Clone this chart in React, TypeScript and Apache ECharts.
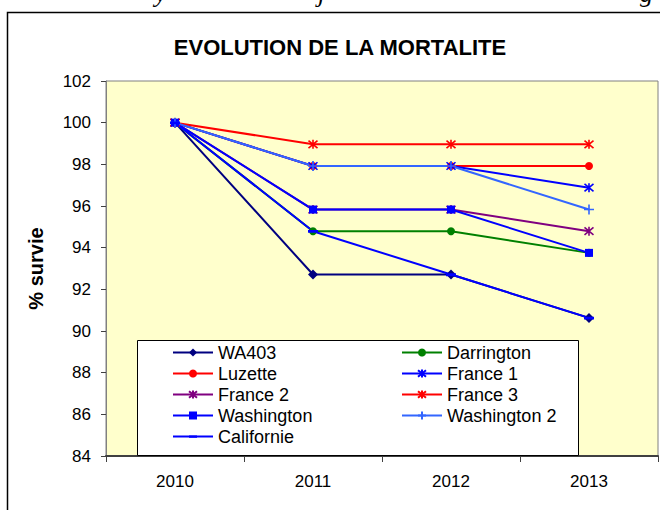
import React, { useEffect, useRef } from "react";
import * as echarts from "echarts";

const categories = ["2010", "2011", "2012", "2013"];
const seriesNames = ["WA403", "Darrington", "Luzette", "France 1", "France 2", "France 3", "Washington", "Washington 2", "Californie"];
const wa403 = [100, 92.71, 92.71, 90.63];
const darrington = [100, 94.79, 94.79, 93.75];
const luzette = [100, 97.92, 97.92, 97.92];
const france1 = [100, 97.92, 97.92, 96.88];
const france2 = [100, 95.83, 95.83, 94.79];
const france3 = [100, 98.96, 98.96, 98.96];
const washington = [100, 95.83, 95.83, 93.75];
const washington2 = [100, 97.92, 97.92, 95.83];
const californie = [100, 94.79, 92.71, 90.63];
const yTicks = { min: 84, max: 102, interval: 2 };

const ASTERISK = "path://M0,0L10,10M10,0L0,10M5,-1L5,11";
const PLUS = "path://M5,0L5,10M0,5L10,5";
const DASH = "path://M0,0L0.01,0L0.01,0.01ZM0,10L0.01,10L0.01,9.99ZM0,3.8L10,3.8L10,6.6L0,6.6Z";

const FONT = "'Liberation Sans', Arial, sans-serif";

export default function App() {
  const ref = useRef<HTMLDivElement>(null);
  useEffect(() => {
    if (!ref.current) return;
    const chart = echarts.init(ref.current, null, { renderer: "svg" });
    const mk = (
      name: string,
      data: number[],
      color: string,
      symbol: string,
      symbolSize: any,
      stroke: boolean
    ) => ({
      name,
      type: "line",
      data,
      symbol,
      symbolSize,
      showSymbol: true,
      lineStyle: { color, width: 2 },
      itemStyle: stroke
        ? { color, borderColor: color, borderWidth: 1.6 }
        : { color, borderWidth: 0 },
      emphasis: { disabled: true },
    });
    const series = [
      mk(seriesNames[0], wa403, "#000080", "diamond", 10, false),
      mk(seriesNames[1], darrington, "#008000", "circle", 8, false),
      mk(seriesNames[2], luzette, "#FF0000", "circle", 8, false),
      mk(seriesNames[3], france1, "#0000FF", ASTERISK, 9, true),
      mk(seriesNames[4], france2, "#800080", ASTERISK, 9, true),
      mk(seriesNames[5], france3, "#FF0000", ASTERISK, 9, true),
      mk(seriesNames[6], washington, "#0000FF", "rect", 8, false),
      mk(seriesNames[7], washington2, "#3366FF", PLUS, 10, true),
      mk(seriesNames[8], californie, "#0000FF", DASH, 10, false),
    ];
    chart.setOption({
      animation: false,
      backgroundColor: "#FFFFFF",
      title: {
        text: "EVOLUTION DE LA MORTALITE",
        left: 340,
        textAlign: "center",
        top: 36,
        padding: 0,
        textStyle: { fontFamily: FONT, fontSize: 22, fontWeight: "bold", color: "#000" },
      },
      grid: {
        left: 106,
        right: 2,
        top: 81,
        bottom: 54,
        show: true,
        backgroundColor: "#FFFFCC",
        borderColor: "#808080",
        borderWidth: 1,
        containLabel: false,
      },
      xAxis: {
        type: "category",
        data: categories,
        boundaryGap: true,
        axisLine: { lineStyle: { color: "#404040", width: 2 } },
        axisTick: { show: true, length: 6, lineStyle: { color: "#404040" } },
        axisLabel: { fontFamily: FONT, fontSize: 17, color: "#000", margin: 17 },
        splitLine: { show: false },
      },
      yAxis: {
        type: "value",
        min: yTicks.min,
        max: yTicks.max,
        interval: yTicks.interval,
        name: "% survie",
        nameLocation: "middle",
        nameGap: 60,
        nameTextStyle: { fontFamily: FONT, fontSize: 20, fontWeight: "bold", color: "#000" },
        axisLine: { show: true, lineStyle: { color: "#808080", width: 1 } },
        axisTick: { show: true, length: 5, lineStyle: { color: "#404040" } },
        axisLabel: { fontFamily: FONT, fontSize: 17, color: "#000", margin: 15 },
        splitLine: { show: false },
      },
      legend: {
        data: seriesNames,
        left: 172,
        top: 342,
        width: 470,
        orient: "horizontal",
        itemGap: 0,
        itemWidth: 40,
        itemHeight: 10,
        padding: 0,
        textStyle: { fontFamily: FONT, fontSize: 18, color: "#000", width: 183, lineHeight: 21 },
        selectedMode: false,
      },
      graphic: [
        {
          type: "rect",
          z: 3,
          shape: { x: 137.5, y: 340.5, width: 441, height: 115 },
          style: { fill: "#FFFFFF", stroke: "#000000", lineWidth: 1 },
        },
        {
          type: "rect",
          z: 1,
          shape: { x: 7.5, y: 12.5, width: 700, height: 600 },
          style: { fill: "none", stroke: "#000000", lineWidth: 1.5 },
        },
        {
          type: "text",
          z: 5,
          x: 155,
          y: -20,
          style: { text: "y", font: "italic 26px 'Liberation Serif', serif", fill: "#000" },
        },
        {
          type: "text",
          z: 5,
          x: 318,
          y: -20,
          style: { text: "j", font: "italic 26px 'Liberation Serif', serif", fill: "#000" },
        },
        {
          type: "text",
          z: 5,
          x: 640,
          y: -20,
          style: { text: "g", font: "italic 26px 'Liberation Serif', serif", fill: "#000" },
        },
      ],
      series,
    });
    return () => chart.dispose();
  }, []);
  return (
    <div
      ref={ref}
      style={{ position: "absolute", left: 0, top: 0, width: 660, height: 510 }}
    />
  );
}
